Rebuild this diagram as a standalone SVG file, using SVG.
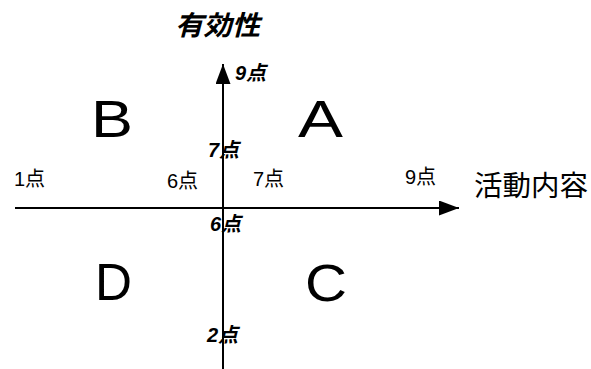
<svg xmlns="http://www.w3.org/2000/svg" width="591" height="369" viewBox="0 0 591 369">
<style>
.lbl{font-family:"Liberation Sans","Noto Sans CJK JP",sans-serif;fill:#000}
.it{font-style:italic;font-weight:bold}
.big{font-size:52px}
.pt{font-size:20px}
.ax{stroke:#000;stroke-width:2;fill:none}
</style>
<defs>
<marker id="ah" viewBox="0 0 20 15" refX="20" refY="7.5" markerWidth="20" markerHeight="15" markerUnits="userSpaceOnUse" orient="auto">
<path d="M0,0 L20,7.5 L0,15 Z" fill="#000"/>
</marker>
</defs>
<rect width="591" height="369" fill="#fff"/>
<g id="connectors">
<line class="ax" x1="223" y1="369" x2="223" y2="64" marker-end="url(#ah)"/>
<line class="ax" x1="15" y1="208" x2="459" y2="208" marker-end="url(#ah)"/>
</g>
<g id="yaxis-title"><text class="lbl it" x="175" y="35" font-size="27" textLength="85" lengthAdjust="spacingAndGlyphs">有効性</text></g>
<g id="xaxis-title"><text class="lbl" x="474" y="196" font-size="28" textLength="114" lengthAdjust="spacingAndGlyphs">活動内容</text></g>
<g id="quadA"><text class="lbl big" x="298" y="137" textLength="45" lengthAdjust="spacingAndGlyphs">A</text></g>
<g id="quadB"><text class="lbl big" x="91" y="137" textLength="42" lengthAdjust="spacingAndGlyphs">B</text></g>
<g id="quadC"><text class="lbl big" x="305" y="301" textLength="42" lengthAdjust="spacingAndGlyphs">C</text></g>
<g id="quadD"><text class="lbl big" x="95" y="300" textLength="37" lengthAdjust="spacingAndGlyphs">D</text></g>
<g id="ticks">
<text class="lbl it pt" x="235" y="80">9点</text>
<text class="lbl it pt" x="208" y="157">7点</text>
<text class="lbl pt" x="14" y="186">1点</text>
<text class="lbl pt" x="167" y="188">6点</text>
<text class="lbl pt" x="253" y="186">7点</text>
<text class="lbl pt" x="405" y="184">9点</text>
<text class="lbl it pt" x="210" y="231">6点</text>
<text class="lbl it pt" x="207" y="342">2点</text>
</g>
</svg>
